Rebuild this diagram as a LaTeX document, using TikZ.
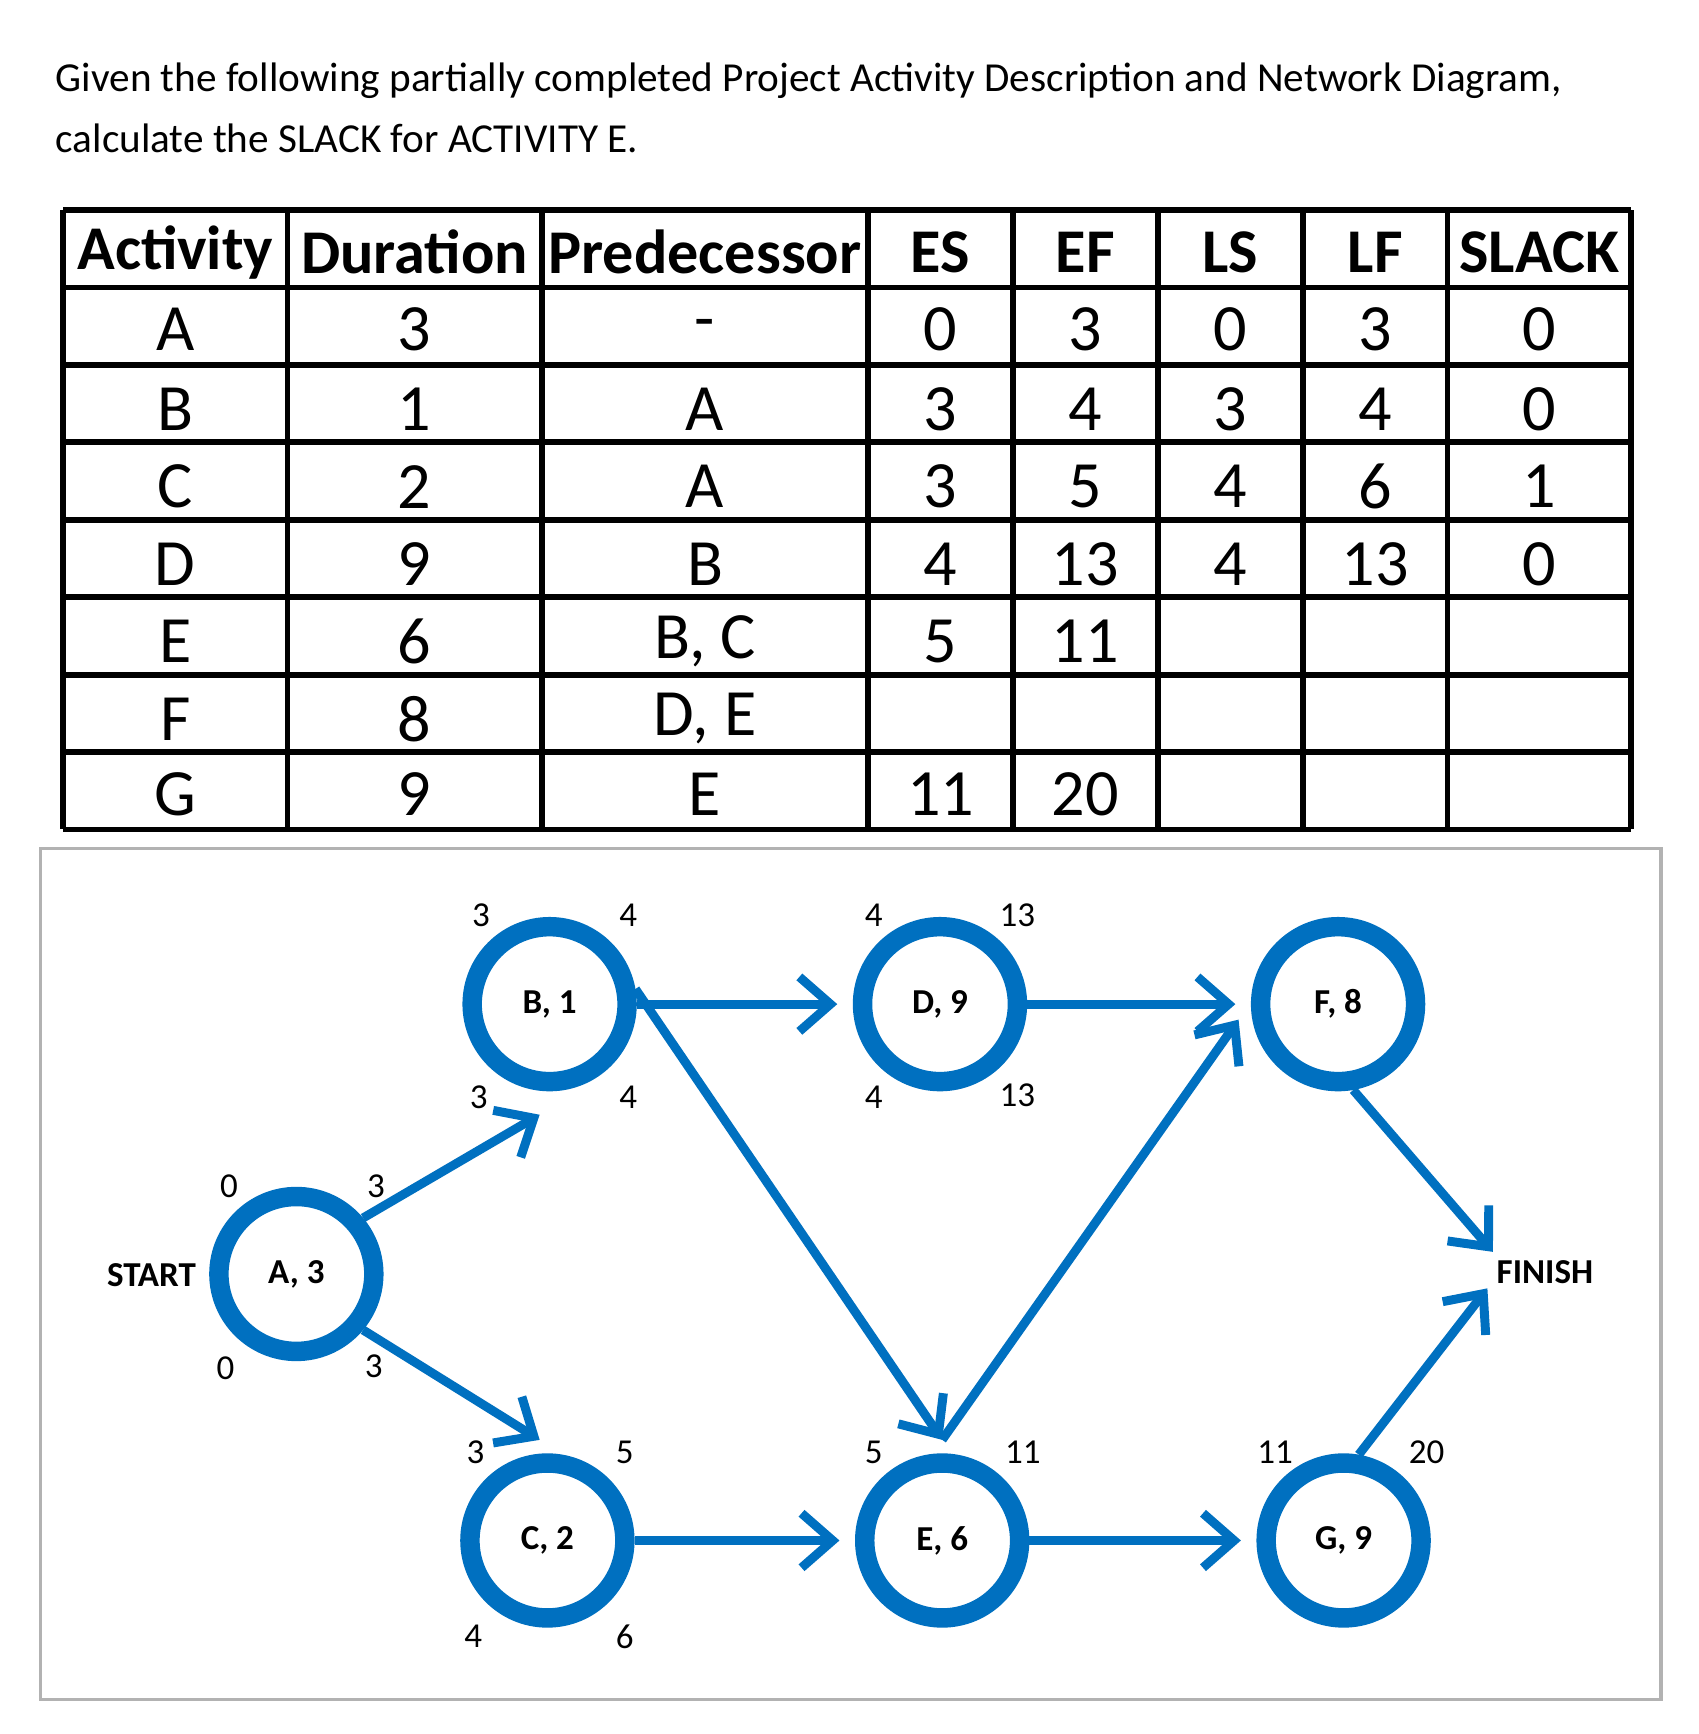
\documentclass[tikz,border=0pt]{standalone}
\usepackage{fontspec}
\setmainfont{Carlito}
\usetikzlibrary{arrows.meta}
\definecolor{nblue}{RGB}{0,112,192}
\begin{document}
\begin{tikzpicture}[x=0.01cm,y=-0.01cm,
  act/.style={circle,draw=nblue,line width=5pt,minimum size=1.40cm,inner sep=0pt,font=\fontsize{9}{10}\selectfont\bfseries},
  arr/.style={draw=nblue,line width=2.3pt,-{Straight Barb[length=8pt,width=14pt,line width=2.3pt]}},
  lab/.style={font=\fontsize{9}{10}\selectfont\bfseries,inner sep=1pt},
  cell/.style={font=\fontsize{17}{18}\selectfont},
  hcell/.style={font=\fontsize{16}{18}\selectfont\bfseries}]
\useasboundingbox[fill=white] (0,0) rectangle (1536,1568);
\node[anchor=west,font=\fontsize{10.6}{12}\selectfont] (t1) at (38,73) {Given the following partially completed Project Activity Description and Network Diagram,};
\node[anchor=west,font=\fontsize{10.6}{12}\selectfont] (t2) at (38,125) {calculate the SLACK for ACTIVITY E.};
% table
\foreach \x in {57,260,490,785,916,1047,1178,1309,1475} {\draw[line width=1.5pt] (\x,190) -- (\x,750);}
\foreach \y in {190,260,330,400,470,540,610,680,750} {\draw[line width=1.5pt] (57,\y) -- (1475,\y);}
\foreach \t [count=\i] in {Activity,Duration,Predecessor,ES,EF,LS,LF,SLACK} {
  \pgfmathsetmacro{\xa}{{57,260,490,785,916,1047,1178,1309,1475}[\i-1]}
  \pgfmathsetmacro{\xb}{{57,260,490,785,916,1047,1178,1309,1475}[\i]}
  \node[hcell] (h\i) at ({(\xa+\xb)/2},228) {\t};}
\newcommand{\trow}[9]{%
  \foreach \t [count=\i] in {{#2},{#3},{#4},{#5},{#6},{#7},{#8},{#9}} {
  \pgfmathsetmacro{\xa}{{57,260,490,785,916,1047,1178,1309,1475}[\i-1]}
  \pgfmathsetmacro{\xb}{{57,260,490,785,916,1047,1178,1309,1475}[\i]}
  \node[cell] at ({(\xa+\xb)/2},#1) {\t};}}
\trow{298}{A}{3}{-}{0}{3}{0}{3}{0}
\trow{370}{B}{1}{A}{3}{4}{3}{4}{0}
\trow{440}{C}{2}{A}{3}{5}{4}{6}{1}
\trow{510}{D}{9}{B}{4}{13}{4}{13}{0}
\trow{580}{E}{6}{B, C}{5}{11}{}{}{}
\trow{650}{F}{8}{D, E}{}{}{}{}{}
\trow{718}{G}{9}{E}{11}{20}{}{}{}
% diagram frame
\draw[gray!60,line width=0.8pt] (37,767) rectangle (1502,1537);
\node[act] (A) at (268,1152) {A, 3};
\node[act] (B) at (497,908) {B, 1};
\node[act] (D) at (850,908) {D, 9};
\node[act] (F) at (1210,908) {F, 8};
\node[act] (C) at (495,1393) {C, 2};
\node[act] (E) at (852,1393) {E, 6};
\node[act] (G) at (1215,1393) {G, 9};
\node[lab] (st) at (137,1153) {START};
\node[lab] (fi) at (1397,1150) {FINISH};
\coordinate (finA) at (1350,1132);
\coordinate (finB) at (1345,1165);
\coordinate (bIn) at (488,1008);
\coordinate (cIn) at (488,1302);
\coordinate (eIn) at (852,1302);
\coordinate (fIn) at (1120,922);
\draw[arr] (A.40) -- (bIn);
\draw[arr] (A.-40) -- (cIn);
\draw[arr, shorten >=4pt] (B) -- (D);
\draw[arr] (B.10) -- (eIn);
\draw[arr, shorten >=4pt] (C) -- (E);
\draw[arr] (eIn) -- (fIn);
\draw[arr, shorten >=4pt] (D) -- (F);
\draw[arr, shorten >=4pt] (E) -- (G);
\draw[arr] (F.-80) -- (finA);
\draw[arr] (G.80) -- (finB);
\foreach \t/\x/\y in {0/207/1073,3/340/1073,0/204/1237,3/338/1235,
 3/435/828,4/568/828,3/433/992,4/568/992,
 4/790/828,13/920/828,4/790/992,13/920/990,
 3/430/1313,5/565/1313,4/428/1480,6/565/1480,
 5/790/1313,11/925/1313,11/1153/1313,20/1290/1313}
 \node[lab,font=\fontsize{9}{10}\selectfont] at (\x,\y) {\t};
\end{tikzpicture}
\end{document}
